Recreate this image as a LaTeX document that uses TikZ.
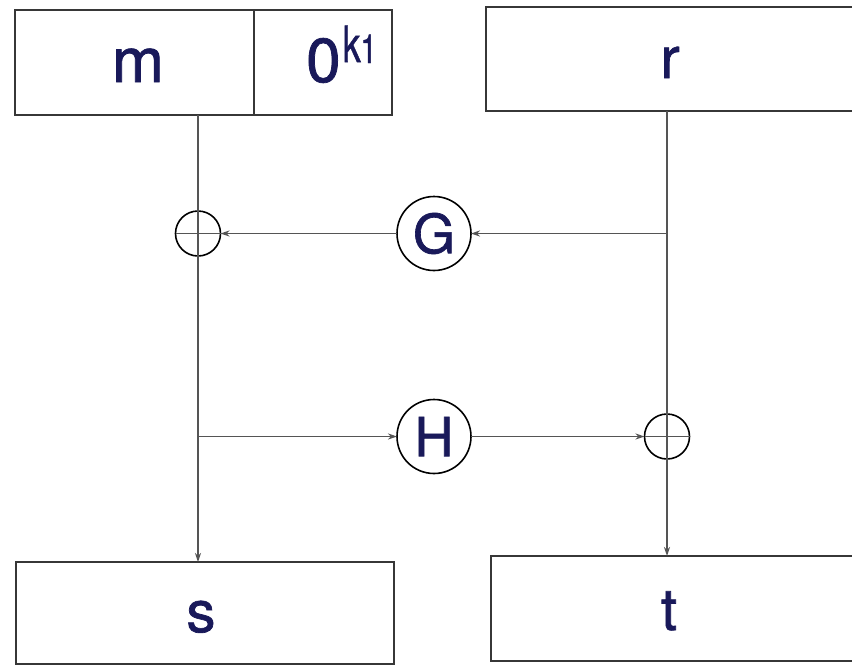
\documentclass[tikz,border=0pt]{standalone}
\usepackage{fontspec}
\setmainfont{TeX Gyre Heros}
\newfontfamily\heavyfont{TeX Gyre Heros}[FakeBold=1.2]
\usetikzlibrary{arrows.meta,calc}
\definecolor{txtcol}{RGB}{25,25,90}
\definecolor{boxcol}{RGB}{55,55,55}
\definecolor{linecol}{RGB}{85,85,85}
\begin{document}
\begin{tikzpicture}[x=1pt,y=-1pt,
  boxnode/.style={draw=boxcol,line width=2.2pt,rectangle,inner sep=0pt,outer sep=0pt},
  label/.style={text=txtcol,anchor=base,inner sep=0pt,font=\heavyfont\fontsize{62}{70}\selectfont},
  funcnode/.style={draw=black,line width=1.6pt,circle,inner sep=0pt,outer sep=0pt,minimum size=74pt,text=txtcol,font=\heavyfont\fontsize{54}{60}\selectfont},
  xornode/.style={draw=black,line width=1.6pt,circle,inner sep=0pt,outer sep=0pt,minimum size=45pt},
  conn/.style={draw=linecol,line width=1.2pt},
  arr/.style={conn,-{Stealth[length=9pt,width=6pt]}}]
\useasboundingbox (0,0) rectangle (852,665);
\clip (0,0) rectangle (852,665);
\fill[white] (0,0) rectangle (852,665);
% boxes
\node[boxnode,minimum width=239pt,minimum height=105pt] (mbox) at (134.5,62.5) {};
\node[boxnode,minimum width=138pt,minimum height=105pt] (kbox) at (323,62.5) {};
\node[boxnode,minimum width=372pt,minimum height=104pt] (rbox) at (672,59) {};
\node[boxnode,minimum width=378pt,minimum height=102pt] (sbox) at (205,613) {};
\node[boxnode,minimum width=367pt,minimum height=105pt] (tbox) at (674.5,608.5) {};
% labels
\node[label] (mlab) at (138,82) {m};
\node[label,anchor=base west] (klab) at (306,82) {0\hspace{2pt}\raisebox{20pt}{\scalebox{0.72}[1]{\fontsize{50}{54}\selectfont k}\raisebox{-1pt}{\scalebox{0.72}[1]{\fontsize{40}{44}\selectfont 1}}}};
\node[label,font=\heavyfont\fontsize{58}{64}\selectfont] (rlab) at (670,78) {r};
\node[label,font=\heavyfont\fontsize{58}{64}\selectfont] (slab) at (201,632) {s};
\node[label,font=\heavyfont\fontsize{58}{64}\selectfont] (tlab) at (669,630) {t};
% function circles and xors
\node[funcnode] (G) at (434,233.5) {G};
\node[funcnode] (H) at (434,436.5) {H};
\node[xornode] (xorL) at (198,233.5) {};
\node[xornode] (xorR) at (667,436.5) {};
% connectors
\draw[arr] (xorL |- mbox.south) -- (xorL |- sbox.north);
\draw[conn] (xorL.west) -- (xorL.east);
\draw[arr] (xorR |- rbox.south) -- (xorR |- tbox.north);
\draw[conn] (xorR.west) -- (xorR.east);
\coordinate (gsrc) at (xorR |- G);
\draw[arr] (gsrc) -- (G.east);
\draw[arr] (G.west) -- (xorL.east);
\coordinate (hsrc) at (xorL |- H);
\draw[arr] (hsrc) -- (H.west);
\draw[arr] (H.east) -- (xorR.west);
\end{tikzpicture}
\end{document}
